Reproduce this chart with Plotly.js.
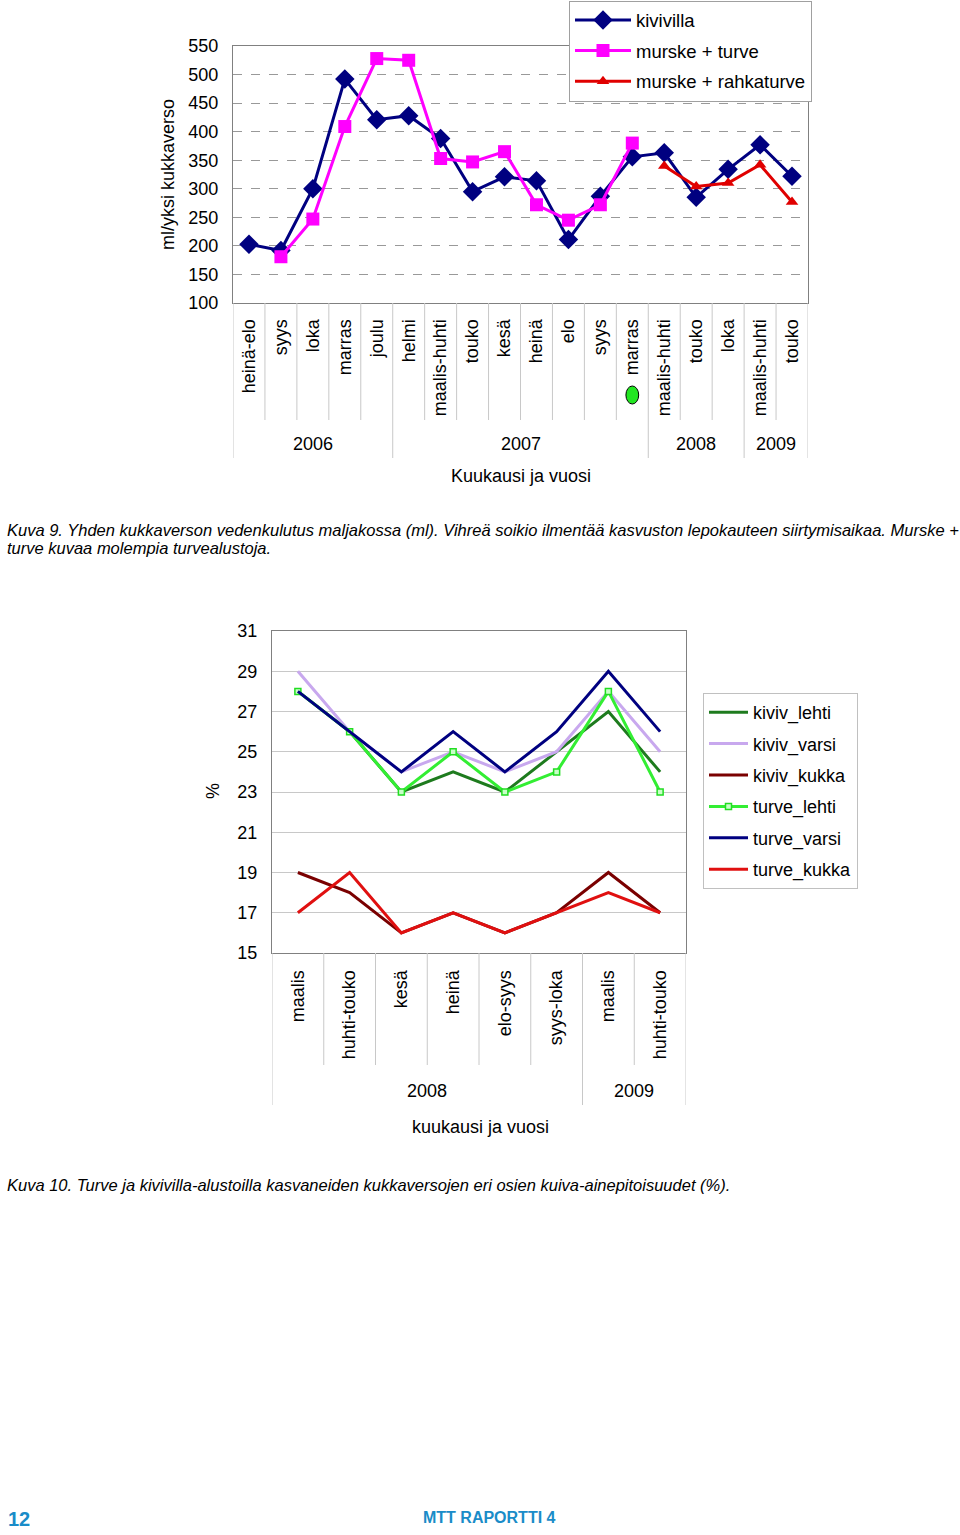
<!DOCTYPE html>
<html>
<head>
<meta charset="utf-8">
<script src="https://cdn.plot.ly/plotly-3.0.1.min.js"></script>
<style>
html,body{margin:0;padding:0;background:#fff;}
#chart{width:960px;height:1535px;}
</style>
</head>
<body>
<div id="chart"></div>
<script>
// ---------- Chart 1 data (Kuva 9) ----------
const months1 = ['heinä-elo','syys','loka','marras','joulu','helmi','maalis-huhti','touko','kesä','heinä','elo','syys','marras','maalis-huhti','touko','loka','maalis-huhti','touko'];
const yearLabels1 = ['2006','2007','2008','2009'];
const yearCounts1 = [5, 8, 3, 2];
const kivivilla = [203,192,300,492,421,428,388,295,321,314,211,287,356,363,285,334,377,322];
const murskeTurve = [null,181,247,409,528,525,353,347,365,272,245,272,380,null,null,null,null,null];
const murskeRahkaturve = [null,null,null,null,null,null,null,null,null,null,null,null,null,340,304,310,342,277];
const restPeriodIndex = 12; // green ellipse under "marras" 2007

// ---------- Chart 2 data (Kuva 10) ----------
const months2 = ['maalis','huhti-touko','kesä','heinä','elo-syys','syys-loka','maalis','huhti-touko'];
const yearLabels2 = ['2008','2009'];
const yearCounts2 = [6, 2];
const kivivLehti = [28,26,23,24,23,25,27,24];
const kivivVarsi = [29,26,24,25,24,25,28,25];
const kivivKukka = [19,18,16,17,16,17,19,17];
const turveLehti = [28,26,23,25,23,24,28,23];
const turveVarsi = [28,26,24,26,24,26,29,26];
const turveKukka = [17,19,16,17,16,17,18,17];

// ---------- helpers ----------
const H = 1535, W = 960;
const py = p => 1 - p / H;
const px = p => p / W;
const idx = arr => arr.map((_, i) => i);
const FONT = 'Liberation Sans, Arial, sans-serif';

function dividers(n, counts, xref, top, innerBottom, outerBottom) {
  const bounds = [0];
  counts.reduce((a, c) => { bounds.push(a + c); return a + c; }, 0);
  const shapes = [];
  for (let i = 0; i <= n; i++) {
    const outer = bounds.includes(i);
    shapes.push({type:'line', xref:xref, yref:'paper', x0:i-0.5, x1:i-0.5,
      y0:py(top), y1:py(outer ? outerBottom : innerBottom),
      line:{color:'#c8c8c8', width:1}});
  }
  return shapes;
}
function yearAnnots(counts, labels, xref, ypix) {
  const out = []; let start = 0;
  counts.forEach((c, k) => {
    out.push({xref:xref, yref:'paper', x:start + (c - 1) / 2, y:py(ypix), text:labels[k],
      showarrow:false, font:{family:FONT, size:18, color:'#000'}, xanchor:'center', yanchor:'middle'});
    start += c;
  });
  return out;
}

const x1 = idx(months1), x2 = idx(months2);

const traces = [
  {x:x1, y:kivivilla, name:'kivivilla', type:'scatter', mode:'lines+markers', xaxis:'x', yaxis:'y',
   line:{color:'#000080', width:3}, marker:{symbol:'diamond', size:15, color:'#000080'}, legend:'legend', legendgroup:'a'},
  {x:x1, y:murskeTurve, name:'murske + turve', type:'scatter', mode:'lines+markers', xaxis:'x', yaxis:'y',
   line:{color:'#ff00ff', width:3}, marker:{symbol:'square', size:13, color:'#ff00ff'}, legend:'legend', legendgroup:'b'},
  {x:x1, y:murskeRahkaturve, name:'murske + rahkaturve', type:'scatter', mode:'lines+markers', xaxis:'x', yaxis:'y',
   line:{color:'#e00000', width:3}, marker:{symbol:'triangle-up', size:11, color:'#e00000'}, legend:'legend', legendgroup:'c'},

  {x:x2, y:kivivLehti, name:'kiviv_lehti', type:'scatter', mode:'lines', xaxis:'x2', yaxis:'y2',
   line:{color:'#1e7b1e', width:3}, legend:'legend2', legendgroup:'d'},
  {x:x2, y:kivivVarsi, name:'kiviv_varsi', type:'scatter', mode:'lines', xaxis:'x2', yaxis:'y2',
   line:{color:'#c8a8ee', width:3}, legend:'legend2', legendgroup:'e'},
  {x:x2, y:kivivKukka, name:'kiviv_kukka', type:'scatter', mode:'lines', xaxis:'x2', yaxis:'y2',
   line:{color:'#7a0000', width:3}, legend:'legend2', legendgroup:'f'},
  {x:x2, y:turveLehti, name:'turve_lehti', type:'scatter', mode:'lines+markers', xaxis:'x2', yaxis:'y2',
   line:{color:'#33ee33', width:3}, marker:{symbol:'square', size:6, color:'#c8ffc8', line:{color:'#22dd22', width:1.5}}, legend:'legend2', legendgroup:'g'},
  {x:x2, y:turveVarsi, name:'turve_varsi', type:'scatter', mode:'lines', xaxis:'x2', yaxis:'y2',
   line:{color:'#000080', width:3}, legend:'legend2', legendgroup:'h'},
  {x:x2, y:turveKukka, name:'turve_kukka', type:'scatter', mode:'lines', xaxis:'x2', yaxis:'y2',
   line:{color:'#e01010', width:3}, legend:'legend2', legendgroup:'i'}
];

const tickFont = {family:FONT, size:18, color:'#000'};
const capFont = {family:FONT, size:16.5, color:'#000'};

const shapes = []
  .concat(dividers(months1.length, yearCounts1, 'x', 303, 420, 458))
  .concat(dividers(months2.length, yearCounts2, 'x2', 953, 1065, 1105));
shapes.push({type:'circle', xref:'x', yref:'paper', x0:restPeriodIndex-0.2, x1:restPeriodIndex+0.2,
  y0:py(404), y1:py(386), fillcolor:'#22e622', line:{color:'#000', width:1}});

const annotations = []
  .concat(yearAnnots(yearCounts1, yearLabels1, 'x', 444))
  .concat(yearAnnots(yearCounts2, yearLabels2, 'x2', 1091));
annotations.push(
  {xref:'paper', yref:'paper', x:px(521), y:py(476), text:'Kuukausi ja vuosi', showarrow:false, font:tickFont, xanchor:'center', yanchor:'middle'},
  {xref:'paper', yref:'paper', x:px(168), y:py(175), text:'ml/yksi kukkaverso', textangle:-90, showarrow:false, font:tickFont, xanchor:'center', yanchor:'middle'},
  {xref:'paper', yref:'paper', x:px(480), y:py(1127), text:'kuukausi ja vuosi', showarrow:false, font:tickFont, xanchor:'center', yanchor:'middle'},
  {xref:'paper', yref:'paper', x:px(213), y:py(791), text:'%', textangle:-90, showarrow:false, font:tickFont, xanchor:'center', yanchor:'middle'},
  {xref:'paper', yref:'paper', x:px(5), y:py(530), text:'<i>Kuva 9. Yhden kukkaverson vedenkulutus maljakossa (ml). Vihreä soikio ilmentää kasvuston lepokauteen siirtymisaikaa. Murske +</i>', showarrow:false, align:'left', xanchor:'left', yanchor:'middle', font:capFont},
  {xref:'paper', yref:'paper', x:px(5), y:py(548), text:'<i>turve kuvaa molempia turvealustoja.</i>', showarrow:false, align:'left', xanchor:'left', yanchor:'middle', font:capFont},
  {xref:'paper', yref:'paper', x:px(5), y:py(1185), text:'<i>Kuva 10. Turve ja kivivilla-alustoilla kasvaneiden kukkaversojen eri osien kuiva-ainepitoisuudet (%).</i>', showarrow:false, align:'left', xanchor:'left', yanchor:'middle', font:capFont},
  {xref:'paper', yref:'paper', x:px(6), y:py(1519), text:'<b>12</b>', showarrow:false, xanchor:'left', yanchor:'middle', font:{family:FONT, size:20, color:'#1a8cc8'}},
  {xref:'paper', yref:'paper', x:px(489), y:py(1517), text:'<b>MTT RAPORTTI 4</b>', showarrow:false, xanchor:'center', yanchor:'middle', font:{family:FONT, size:16, color:'#1a8cc8'}}
);

const layout = {
  width:W, height:H,
  margin:{l:0, r:0, t:0, b:0},
  paper_bgcolor:'#fff', plot_bgcolor:'#fff',
  font:{family:FONT, size:18, color:'#000'},
  xaxis:{domain:[px(233), px(808)], anchor:'y', range:[-0.5, months1.length-0.5],
    tickmode:'array', tickvals:x1, ticktext:months1, tickangle:-90, ticks:'', ticklabelstandoff:8,
    tickfont:tickFont, showgrid:false, zeroline:false, showline:true, mirror:true, linecolor:'#808080', linewidth:1},
  yaxis:{domain:[py(303), py(46)], anchor:'x', range:[100, 550], dtick:50, tick0:100,
    ticks:'', ticklabelstandoff:10, tickfont:tickFont, showgrid:true, gridcolor:'#999', griddash:'dash', gridwidth:1,
    zeroline:false, showline:true, mirror:true, linecolor:'#808080', linewidth:1},
  xaxis2:{domain:[px(272), px(686)], anchor:'y2', range:[-0.5, months2.length-0.5],
    tickmode:'array', tickvals:x2, ticktext:months2, tickangle:-90, ticks:'', ticklabelstandoff:9,
    tickfont:tickFont, showgrid:false, zeroline:false, showline:true, mirror:true, linecolor:'#808080', linewidth:1},
  yaxis2:{domain:[py(953), py(631)], anchor:'x2', range:[15, 31], dtick:2, tick0:15,
    ticks:'', ticklabelstandoff:10, tickfont:tickFont, showgrid:true, gridcolor:'#c8c8c8', gridwidth:1,
    zeroline:false, showline:true, mirror:true, linecolor:'#808080', linewidth:1},
  legend:{x:px(569), y:py(0.5), xanchor:'left', yanchor:'top', bgcolor:'#fff', bordercolor:'#a0a0a0', borderwidth:1,
    font:{family:FONT, size:18.5, color:'#000'}, tracegroupgap:3.5, itemwidth:56},
  legend2:{x:px(703), y:py(693), xanchor:'left', yanchor:'top', bgcolor:'#fff', bordercolor:'#c0c0c0', borderwidth:1,
    font:{family:FONT, size:18, color:'#000'}, tracegroupgap:5, itemwidth:39},
  showlegend:true,
  shapes:shapes,
  annotations:annotations
};

Plotly.newPlot('chart', traces, layout, {displayModeBar:false, staticPlot:true});
</script>
</body>
</html>
